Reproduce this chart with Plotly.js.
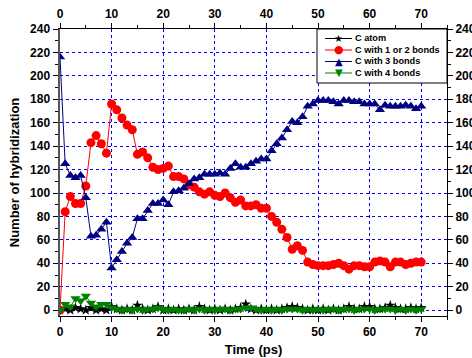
<!DOCTYPE html>
<html>
<head>
<meta charset="utf-8">
<script src="https://cdn.plot.ly/plotly-3.0.1.min.js"></script>
<style>html,body{margin:0;padding:0;background:#fff;}#chart{width:472px;height:358px;}</style>
</head>
<body>
<div id="chart"></div>
<script>
const time = [0,1,2,3,4,5,6,7,8,9,10,11,12,13,14,15,16,17,18,19,20,21,22,23,24,25,26,27,28,29,30,31,32,33,34,35,36,37,38,39,40,41,42,43,44,45,46,47,48,49,50,51,52,53,54,55,56,57,58,59,60,61,62,63,64,65,66,67,68,69,70];
const cAtom = [0,1,0,2,1,0,2,0,1,0,3,1,0,1,0,4,1,0,1,3,0,1,0,1,0,1,0,3,1,0,1,0,1,0,1,2,5,1,0,1,0,1,0,1,2,3,2,1,0,1,0,1,0,1,0,1,3,1,1,3,3,1,1,2,4,2,1,1,2,1,2];
const c12 = [0,84,97,91,91,106,143,149,142,134,176,171,164,158,154,133,135,130,122,120,121,123,114,114,112,107,105,101,99,101,98,97,100,96,92,94,89,89,90,87,87,80,75,69,62,52,55,51,41,39,38,38,38,39,40,38,35,38,38,37,37,41,42,41,37,41,41,39,40,41,41];
const c3 = [216,125,115,113,115,96,63,64,69,75,36,43,50,57,62,78,78,85,91,91,94,90,101,102,104,108,112,113,116,116,116,117,116,121,125,122,122,125,127,129,129,136,142,147,154,161,160,165,174,176,179,179,179,178,176,179,179,178,178,176,176,176,171,175,174,174,174,175,174,172,174];
const c4 = [0,5,3,10,8,12,6,3,5,5,2,1,0,1,0,1,0,1,1,2,1,0,1,0,0,1,0,1,0,1,0,1,1,0,1,1,2,2,1,0,1,0,1,0,1,1,1,0,1,0,1,0,1,1,0,1,1,0,1,1,1,0,1,1,1,0,1,0,1,0,1];
const seriesNames = ["C atom","C with 1 or 2 bonds","C with 3 bonds","C with 4 bonds"];
const seriesColors = ['#000000','#ff0000','#000080','#008000'];
const seriesSymbols = ['star','circle','triangle-up','triangle-down'];
const legendGlyphs = ['\u2605','\u25CF','\u25B2','\u25BC'];
const xTicks = [0,10,20,30,40,50,60,70];
const yTicks = [0,20,40,60,80,100,120,140,160,180,200,220,240];

const FONT = "Arial, 'Liberation Sans', sans-serif";
const seriesData = [cAtom, c12, c3, c4];
const markerSizes = [8, 9, 9, 9];
const traces = seriesData.map((y, i) => ({
  x: time, y: y, name: seriesNames[i], type:'scatter', mode:'lines+markers', showlegend:false,
  line:{color:seriesColors[i], width:1},
  marker:{color:seriesColors[i], symbol:seriesSymbols[i], size:markerSizes[i], line:{width:0}}
}));
traces.push({x:[time[0]], y:[c12[0]], xaxis:'x2', yaxis:'y2', mode:'markers', marker:{opacity:0}, showlegend:false, hoverinfo:'skip'});

// custom legend (paper coords): plot area spans px 60..447 (x), 29..316 (y)
const px = v => (v - 60) / 387;
const py = v => (316 - v) / 287;
const shapes = [{type:'rect', xref:'paper', yref:'paper', x0:px(317), x1:1, y0:py(83), y1:1,
  line:{color:'#000', width:1}, fillcolor:'#fff', layer:'above'}];
const annotations = [];
const rowY = [38.5, 50, 61.5, 73];
seriesNames.forEach((n, i) => {
  shapes.push({type:'line', xref:'paper', yref:'paper', x0:px(325), x1:px(352), y0:py(rowY[i]), y1:py(rowY[i]),
    line:{color:seriesColors[i], width:1}, layer:'above'});
  annotations.push({xref:'paper', yref:'paper', x:px(338.5), y:py(rowY[i]), xanchor:'center', yanchor:'middle',
    text:legendGlyphs[i], showarrow:false, font:{family:"'DejaVu Sans'", size:i===1?11:10, color:seriesColors[i]}});
  annotations.push({xref:'paper', yref:'paper', x:px(353), y:py(rowY[i]), xanchor:'left', yanchor:'middle',
    text:n, showarrow:false, font:{family:FONT, size:9.2, color:'#000', weight:'bold'}});
});

const tickFont = {family:FONT, size:12, color:'#000', weight:'bold'};
const common = {ticks:'outside', ticklen:5, tickwidth:1, tickcolor:'#000', showline:true, linecolor:'#000', linewidth:1, zeroline:false, tickfont:tickFont};
const xMinor = {tickvals:[5,15,25,35,45,55,65,75], ticks:'outside', ticklen:3, tickcolor:'#000', showgrid:false};
const yMinor = {tickvals:[10,30,50,70,90,110,130,150,170,190,210,230], ticks:'outside', ticklen:3, tickcolor:'#000', showgrid:false};
const layout = {
  width:472, height:358,
  margin:{l:60, r:25, t:29, b:42},
  paper_bgcolor:'#fff', plot_bgcolor:'#fff',
  showlegend:false,
  shapes: shapes, annotations: annotations,
  xaxis: Object.assign({}, common, {range:[0,75], tickmode:'array', tickvals:xTicks, ticktext:xTicks.map(String),
    showgrid:true, gridcolor:'#0000ff', griddash:'dot', gridwidth:1, minor:xMinor,
    title:{text:'Time (ps)', font:{family:FONT, size:13, color:'#000', weight:'bold'}, standoff:6}}),
  xaxis2: Object.assign({}, common, {overlaying:'x', side:'top', matches:'x', range:[0,75], tickmode:'array', tickvals:xTicks, ticktext:xTicks.map(String), showgrid:false, minor:xMinor}),
  yaxis: Object.assign({}, common, {range:[-5,240], tickmode:'array', tickvals:yTicks, ticktext:yTicks.map(String),
    linecolor:'#555', linewidth:2.5,
    showgrid:true, gridcolor:'#0000ff', griddash:'dot', gridwidth:1, minor:yMinor,
    title:{text:'Number of hybridization', font:{family:FONT, size:13, color:'#000', weight:'bold'}, standoff:8}}),
  yaxis2: Object.assign({}, common, {overlaying:'y', side:'right', matches:'y', range:[-5,240], tickmode:'array', tickvals:yTicks, ticktext:yTicks.map(String), showgrid:false, minor:yMinor})
};
Plotly.newPlot('chart', traces, layout, {displayModeBar:false, staticPlot:true});
</script>
</body>
</html>
